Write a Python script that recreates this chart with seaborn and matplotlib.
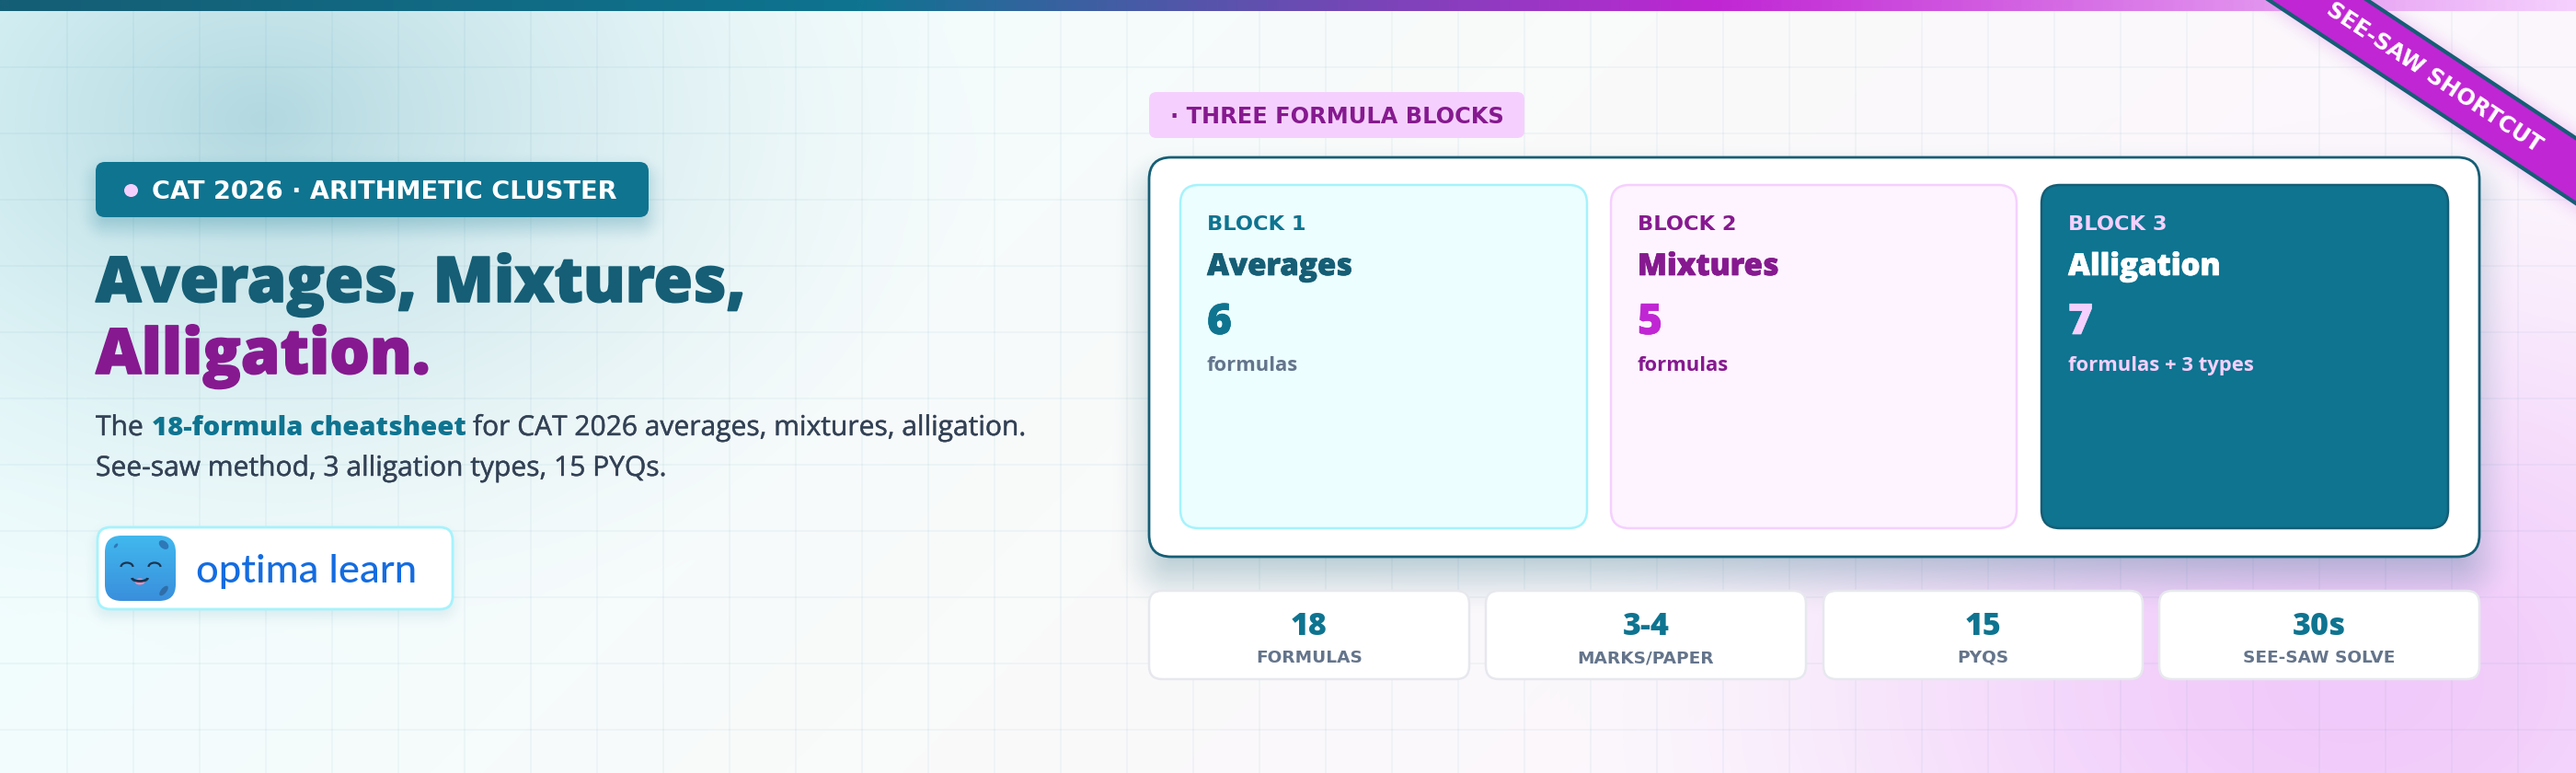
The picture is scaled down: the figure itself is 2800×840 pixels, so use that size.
import numpy as np
import matplotlib
matplotlib.use('Agg')
import matplotlib.pyplot as plt
import matplotlib.patheffects as pe
from matplotlib.colors import to_rgb
from matplotlib.patches import FancyBboxPatch, Polygon, Ellipse, Arc
import seaborn as sns

# content
badge_text = 'CAT 2026 · ARITHMETIC CLUSTER'
title_lines = ['Averages, Mixtures,', 'Alligation.']
lead_parts = ['The', '18-formula cheatsheet', 'for CAT 2026 averages, mixtures, alligation.']
lead_second = 'See-saw method, 3 alligation types, 15 PYQs.'
section_text = '· THREE FORMULA BLOCKS'
ribbon_text = 'SEE-SAW SHORTCUT'
logo_text = 'optima learn'

block_labels = ['BLOCK 1', 'BLOCK 2', 'BLOCK 3']
block_titles = ['Averages', 'Mixtures', 'Alligation']
block_counts = [6, 5, 7]
block_notes = ['formulas', 'formulas', 'formulas + 3 types']

stat_values = ['18', '3-4', '15', '30s']
stat_labels = ['FORMULAS', 'MARKS/PAPER', 'PYQS', 'SEE-SAW SOLVE']

# palette
TEAL_D = '#155e75'
TEAL = '#0e7490'
PURPLE = '#86198f'
MAGENTA = '#c026d3'
PINK = '#f5d0fe'
SLATE = '#334155'
GREY = '#64748b'

W, H = 2800, 840
HEAVY = 'Open Sans'
WIDE = 'DejaVu Sans'

sns.set_theme(style='white')
plt.rcParams['font.family'] = ['Open Sans', 'DejaVu Sans']


def rgb(c):
    return np.array(to_rgb(c))


def over(img, col, alpha):
    return img * (1 - alpha[..., None]) + rgb(col) * alpha[..., None]


def box_dist(xx, yy, x0, y0, x1, y1, r):
    # signed distance to a rounded box
    qx = np.abs(xx - (x0 + x1) / 2) - (x1 - x0) / 2 + r
    qy = np.abs(yy - (y0 + y1) / 2) - (y1 - y0) / 2 + r
    return np.hypot(np.maximum(qx, 0), np.maximum(qy, 0)) + np.minimum(np.maximum(qx, qy), 0) - r


def shadow(img, xx, yy, rect, r, col, strength, blur, dy):
    d = box_dist(xx, yy - dy, *rect, r)
    a = np.clip(1 - (d + blur * 0.5) / blur, 0, 1)
    return over(img, col, strength * a * a * (3 - 2 * a))


def background():
    yy, xx = np.mgrid[0:H, 0:W] + 0.5
    # diagonal base
    t = (xx * 0.707 + yy * 0.707) / ((W + H) * 0.707)
    cmap = sns.blend_palette(['#ecfeff', '#fafafa', '#fdf4ff'], as_cmap=True)
    img = cmap(t)[..., :3]
    # teal glow top left
    rr = np.hypot((xx - 285) / 820, (yy - 130) / 590)
    a = np.clip(1 - rr, 0, 1)
    img = over(img, TEAL, 0.27 * a ** 1.6)
    # pink glow bottom right
    rr = np.hypot((xx - 2560) / 900, (yy - 740) / 640)
    a = np.clip(1 - rr, 0, 1)
    img = over(img, '#f0c8fa', 0.95 * a * a * (3 - 2 * a))
    # shadows of the raised boxes
    img = shadow(img, xx, yy, (104, 176, 705, 236), 12, TEAL, 0.32, 44, 10)
    img = shadow(img, xx, yy, (1249, 171, 2695, 605), 24, TEAL_D, 0.30, 84, 24)
    img = shadow(img, xx, yy, (105, 573, 492, 663), 14, TEAL, 0.12, 30, 6)
    # ribbon glow
    dist = np.abs((xx - RIB_X) * np.sin(RIB_A) - yy * np.cos(RIB_A))
    a = np.clip(1 - (dist - 14) / 40, 0, 1)
    img = over(img, MAGENTA, 0.42 * a * a)
    return img


def rbox(ax, x0, y0, x1, y1, r, fc, ec='none', lw=0, z=3):
    p = FancyBboxPatch((x0, y0), x1 - x0, y1 - y0, boxstyle=f'round,pad=0,rounding_size={r}',
                       fc=fc, ec=ec, lw=lw, zorder=z)
    ax.add_patch(p)
    return p


def put(ax, x, y, s, px, color, family=HEAVY, weight=400, ha='left', z=6, stroke=0, **kw):
    t = ax.text(x, y, s, fontsize=px * 0.72, color=color, family=family, weight=weight,
                ha=ha, va='baseline', zorder=z, **kw)
    if stroke:
        t.set_path_effects([pe.withStroke(linewidth=stroke, foreground=color)])
    return t


# ribbon centre line
RIB_X = 2519.5
RIB_A = np.radians(33.5)

fig = plt.figure(figsize=(28, 8.4), dpi=100)
ax = fig.add_axes([0, 0, 1, 1])
ax.imshow(background(), extent=(0, W, H, 0), aspect='auto', zorder=0, interpolation='nearest')
ax.axis('off')

# faint grid
ax.vlines(np.arange(72.5, W, 72), 0, H, color=TEAL, alpha=0.05, lw=1.2, zorder=1)
ax.hlines(np.arange(72.5, H, 72), 0, W, color=TEAL, alpha=0.05, lw=1.2, zorder=1)

# top stripe
stripe = sns.blend_palette([TEAL_D, TEAL, MAGENTA, PINK], n_colors=256, as_cmap=True)
ax.imshow(np.linspace(0, 1, 1024)[None, :], cmap=stripe, extent=(0, W, 12, 0), aspect='auto', zorder=2)

# left column
rbox(ax, 104, 176, 705, 236, 10, TEAL)
ax.add_patch(Ellipse((142.5, 207), 15, 14, fc=PINK, ec='none', zorder=6))
put(ax, 165, 216.5, badge_text, 27.2, 'white', family=WIDE, weight='bold')

put(ax, 104, 328, title_lines[0], 68.5, TEAL_D, weight=800, stroke=1.2)
put(ax, 104, 406, title_lines[1], 68.5, PURPLE, weight=800, stroke=1.2)

put(ax, 104, 473, lead_parts[0], 30, SLATE, stroke=0.3)
put(ax, 165, 473, lead_parts[1], 29.2, TEAL, weight=800)
put(ax, 514, 473, lead_parts[2], 30, SLATE, stroke=0.3)
put(ax, 104, 517, lead_second, 30, SLATE, stroke=0.3)

# logo
rbox(ax, 106, 573, 492, 662, 14, 'white', ec='#a5f3fc', lw=2)
icon = rbox(ax, 114, 582, 191, 653, 18, 'none', z=4)
grad = sns.blend_palette(['#41b8ee', '#3a8fdc'], as_cmap=True)
im = ax.imshow(np.linspace(0, 1, 64)[:, None], cmap=grad, extent=(114, 191, 653, 582), aspect='auto', zorder=4)
im.set_clip_path(icon)
for ex in (138, 168):
    ax.add_patch(Arc((ex, 616), 13, 9, theta1=180, theta2=360, color='#1c3550', lw=1.6, zorder=5))
ax.add_patch(Ellipse((152, 632), 11, 7, fc='#f08fb8', ec='none', zorder=5))
ax.add_patch(Arc((152, 628), 17, 7, theta1=0, theta2=180, color='#1c3550', lw=2, zorder=5))
ax.add_patch(Ellipse((178, 592), 12, 8, angle=40, fc='#2e78b8', ec='none', zorder=5))
ax.add_patch(Ellipse((178, 642), 13, 6, angle=-50, fc='#2f6ea8', ec='none', zorder=5))
ax.add_patch(Ellipse((126, 593), 3, 6, angle=40, fc='#2e78b8', ec='none', zorder=5))
put(ax, 213, 633, logo_text, 43.5, '#146ce0', family='Lato', weight=500)

# section tag
rbox(ax, 1249, 100, 1657, 150, 8, PINK)
put(ax, 1272, 134, section_text, 24, PURPLE, family=WIDE, weight='bold')

# main card with three blocks
rbox(ax, 1249, 171, 2695, 605, 24, 'white', ec=TEAL_D, lw=2)
block_x = [(1283, 1725), (1751, 2192), (2219, 2661)]
block_fill = ['#ecfeff', '#fdf4ff', TEAL]
block_edge = ['#a5f3fc', PINK, TEAL_D]
label_col = [TEAL, PURPLE, PINK]
title_col = [TEAL_D, PURPLE, 'white']
count_col = [TEAL, MAGENTA, PINK]
note_col = [GREY, PURPLE, PINK]
for i, (x0, x1) in enumerate(block_x):
    rbox(ax, x0, 201, x1, 574, 20, block_fill[i], ec=block_edge[i], lw=1.8, z=4)
    tx = x0 + 29
    put(ax, tx, 250, block_labels[i], 22.5, label_col[i], family=WIDE, weight='bold')
    put(ax, tx, 299, block_titles[i], 33, title_col[i], weight=800, stroke=0.5)
    put(ax, tx, 363, str(block_counts[i]), 46, count_col[i], weight=800, stroke=0.5)
    put(ax, tx, 403, block_notes[i], 22, note_col[i], weight=700)

# stat cards
stat_x = [(1249, 1597), (1615, 1963), (1982, 2329), (2347, 2695)]
for (x0, x1), val, lab in zip(stat_x, stat_values, stat_labels):
    rbox(ax, x0, 642, x1, 738, 14, 'white', ec='#e7e8ee', lw=1.8)
    put(ax, (x0 + x1) / 2, 690, val, 34, TEAL, weight=800, ha='center')
    put(ax, (x0 + x1) / 2, 720, lab, 18.5, GREY, family=WIDE, weight='bold', ha='center')

# corner ribbon
half = 29.5
length = 700
ca, sa = np.cos(RIB_A), np.sin(RIB_A)
corners = [(RIB_X + sl * length * ca - sw * half * sa, sl * length * sa + sw * half * ca)
           for sl, sw in [(-1, -1), (1, -1), (1, 1), (-1, 1)]]
ax.add_patch(Polygon(corners, closed=True, fc=MAGENTA, ec=TEAL_D, lw=3, zorder=7))
ax.text(2645.5, 84.5, ribbon_text, fontsize=17.3, color='white', family=WIDE, weight='bold',
        rotation=-np.degrees(RIB_A), rotation_mode='anchor',
        ha='center', va='center', zorder=8)

ax.set_xlim(0, W)
ax.set_ylim(H, 0)
fig.savefig('out.png', dpi=100)
